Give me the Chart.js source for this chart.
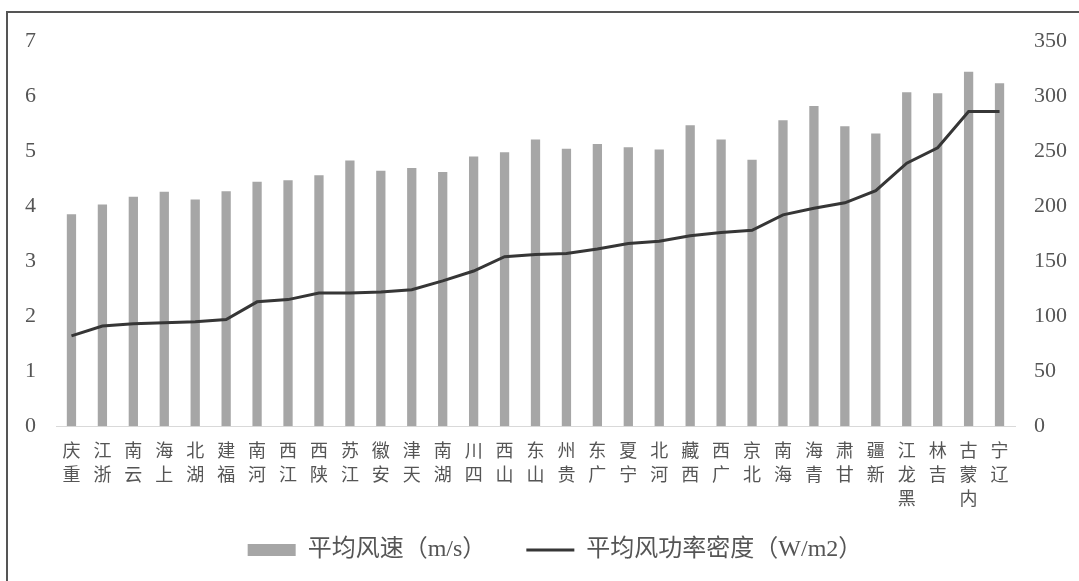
<!DOCTYPE html>
<html>
<head>
<meta charset="utf-8">
<script src="https://cdn.jsdelivr.net/npm/chart.js@4/dist/chart.umd.min.js"></script>
<style>
  html, body { margin: 0; padding: 0; background: #fff; }
  #wrap { position: relative; width: 1079px; height: 581px; overflow: hidden; }
  #frame { position: absolute; left: 6px; top: 11px; width: 1100px; height: 600px;
           border-left: 2px solid #555; border-top: 2px solid #555; }
  canvas { position: absolute; left: 0; top: 0; }
</style>
</head>
<body>
<div id="wrap">
  <div id="frame"></div>
  <canvas id="myChart" width="1079" height="581"></canvas>
</div>
<script>
// provinces, sorted by wind power density
var provinces = ['重庆', '浙江', '云南', '上海', '湖北', '福建', '河南', '江西', '陕西', '江苏',
  '安徽', '天津', '湖南', '四川', '山西', '山东', '贵州', '广东', '宁夏', '河北',
  '西藏', '广西', '北京', '海南', '青海', '甘肃', '新疆', '黑龙江', '吉林', '内蒙古', '辽宁'];

// 平均风速 m/s (left axis)
var windSpeed = [3.85, 4.03, 4.17, 4.26, 4.12, 4.27, 4.44, 4.47, 4.56, 4.83,
  4.64, 4.69, 4.62, 4.90, 4.98, 5.21, 5.04, 5.13, 5.07, 5.03,
  5.47, 5.21, 4.84, 5.56, 5.82, 5.45, 5.32, 6.07, 6.05, 6.44, 6.23];

// 平均风功率密度 W/m2 (right axis)
var powerDensity = [82, 91, 93, 94, 95, 97, 113, 115, 121, 121,
  122, 124, 132, 141, 154, 156, 157, 161, 166, 168,
  173, 176, 178, 192, 198, 203, 214, 239, 253, 286, 286];

var seriesNames = ['平均风速（m/s）', '平均风功率密度（W/m2）'];
var leftTicks = [0, 7, 1];
var rightTicks = [0, 350, 50];

var barColor = '#a6a6a6';
var lineColor = '#363636';
var textColor = '#555555';
var serif = "'Liberation Serif', 'Noto Sans CJK SC', serif";

// nudge the legend a bit right, like the original
var legendShift = {
  id: 'legendShift',
  afterLayout: function (chart) {
    chart.legend.left += 7;
    chart.legend.right += 7;
  }
};

const ctx = document.getElementById('myChart');
new Chart(ctx, {
  type: 'bar',
  data: {
    labels: provinces,
    datasets: [
      {
        type: 'bar',
        label: seriesNames[0],
        data: windSpeed,
        backgroundColor: barColor,
        barPercentage: 0.3,
        categoryPercentage: 1,
        yAxisID: 'y',
        order: 1
      },
      {
        type: 'line',
        label: seriesNames[1],
        data: powerDensity,
        borderColor: lineColor,
        borderWidth: 3,
        pointRadius: 0,
        tension: 0,
        yAxisID: 'y1',
        order: 0
      }
    ]
  },
  plugins: [legendShift],
  options: {
    responsive: false,
    animation: false,
    layout: { padding: { top: 41, left: 22, right: 5, bottom: 9 } },
    plugins: {
      tooltip: { enabled: false },
      legend: {
        position: 'bottom',
        labels: {
          color: textColor,
          font: { family: serif, size: 24 },
          usePointStyle: true,
          pointStyleWidth: 48,
          boxHeight: 12,
          padding: 16,
          generateLabels: function () {
            return [
              { text: seriesNames[0] + '\u3000  ', fillStyle: barColor, strokeStyle: barColor, lineWidth: 0,
                pointStyle: 'rect', datasetIndex: 0, fontColor: textColor },
              { text: seriesNames[1], fillStyle: lineColor, strokeStyle: lineColor, lineWidth: 3,
                pointStyle: 'line', datasetIndex: 1, fontColor: textColor }
            ];
          }
        }
      }
    },
    scales: {
      x: {
        grid: { display: false, drawTicks: false },
        border: { color: '#d9d9d9', width: 1 },
        ticks: {
          autoSkip: false,
          maxRotation: 0,
          minRotation: 0,
          padding: 12,
          color: textColor,
          font: { family: "'Noto Sans CJK SC'", size: 18, lineHeight: 1.33 },
          callback: function (v, i) {
            return provinces[i].split('').reverse();
          }
        }
      },
      y: {
        position: 'left',
        min: leftTicks[0],
        max: leftTicks[1],
        grid: { display: false, drawTicks: false },
        border: { display: false },
        ticks: { stepSize: leftTicks[2], padding: 20, color: textColor, font: { family: serif, size: 22 } },
        afterFit: function (s) { s.width = 34; }
      },
      y1: {
        position: 'right',
        min: rightTicks[0],
        max: rightTicks[1],
        grid: { display: false, drawTicks: false },
        border: { display: false },
        ticks: { stepSize: rightTicks[2], padding: 19, color: textColor, font: { family: serif, size: 22 } },
        afterFit: function (s) { s.width = 59; }
      }
    }
  }
});
</script>
</body>
</html>
